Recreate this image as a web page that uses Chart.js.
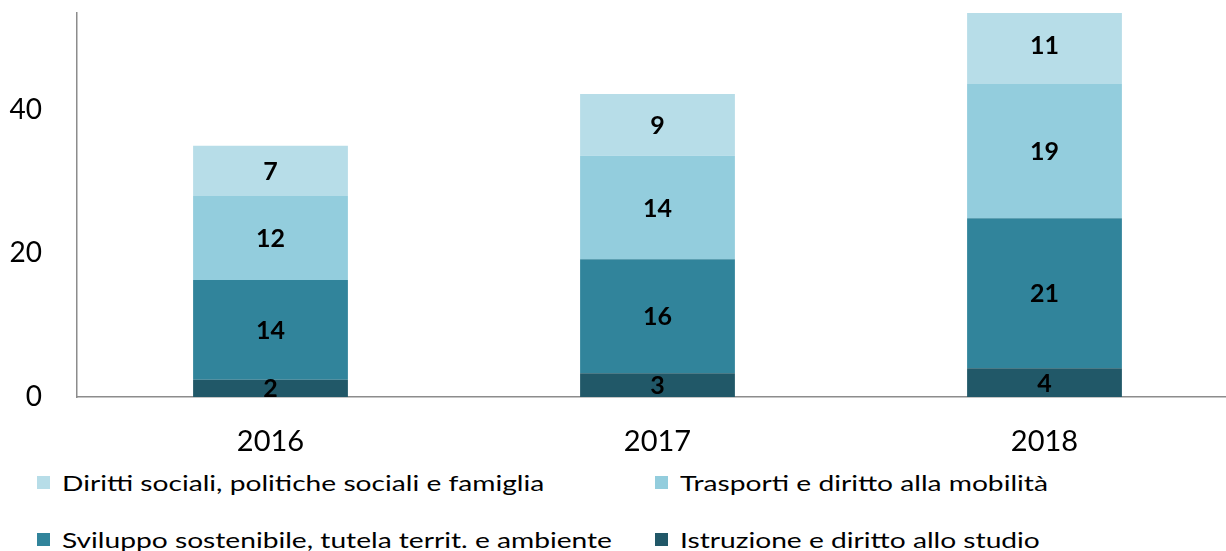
<!DOCTYPE html>
<html><head><meta charset="utf-8">
<script src="https://cdn.jsdelivr.net/npm/chart.js@4/dist/chart.umd.min.js"></script>
<style>
html,body{margin:0;padding:0;background:#fff;overflow:hidden;width:1226px;height:551px;}
#wrap{position:relative;width:1238px;height:465px;}
#legend{position:absolute;left:0;top:465px;width:1226px;height:86px;font-family:Lato,sans-serif;font-size:22px;color:#000;}
.item{position:absolute;display:flex;align-items:center;white-space:nowrap;}
.sw{width:13px;height:13px;margin-right:12px;flex:none;}
.tx{display:inline-block;transform:scaleX(1.28);transform-origin:0 50%;}
</style></head>
<body>
<div id="wrap"><canvas id="c"></canvas></div>
<div id="legend"></div>
<script>
const categories = ['2016', '2017', '2018'];
const istruzione = [2.4, 3.3, 4.0];
const sviluppo = [13.9, 15.9, 20.9];
const trasporti = [11.7, 14.4, 18.7];
const diritti = [7.0, 8.6, 11.0];
const seriesNames = ['Istruzione e diritto allo studio', 'Sviluppo sostenibile, tutela territ. e ambiente', 'Trasporti e diritto alla mobilità', 'Diritti sociali, politiche sociali e famiglia'];
const seriesColors = ['#215868', '#31849b', '#93cddd', '#b7dde8'];
const yTicks = [0, 20, 40];

const seriesData = [istruzione, sviluppo, trasporti, diritti];

const labelPlugin = {
  id: 'barLabels',
  afterDatasetsDraw(chart) {
    const ctx = chart.ctx;
    ctx.save();
    ctx.font = 'bold 25px Lato, sans-serif';
    ctx.fillStyle = '#000';
    ctx.textAlign = 'center';
    ctx.textBaseline = 'middle';
    chart.data.datasets.forEach((ds, i) => {
      const meta = chart.getDatasetMeta(i);
      meta.data.forEach((el, j) => {
        const y = (el.y + el.base) / 2 + 1;
        ctx.fillText(String(Math.round(ds.data[j])), el.x, y);
      });
    });
    ctx.restore();
  }
};

const chart = new Chart(document.getElementById('c'), {
  type: 'bar',
  data: {
    labels: categories,
    datasets: seriesData.map((d, i) => ({
      label: seriesNames[i],
      data: d,
      backgroundColor: seriesColors[i],
      borderWidth: 0,
      barPercentage: 0.4,
      categoryPercentage: 1.0
    }))
  },
  options: {
    responsive: true,
    maintainAspectRatio: false,
    animation: false,
    layout: { padding: { top: 13, left: 0, right: 0, bottom: 0 } },
    plugins: { legend: { display: false }, tooltip: { enabled: false } },
    scales: {
      x: {
        stacked: true,
        grid: { display: false, drawTicks: false },
        border: { display: true, color: '#8c8c8c', width: 1.5 },
        ticks: { color: '#000', font: { family: 'Lato, sans-serif', size: 29 }, padding: 27 },
        afterFit(s) { s.height = 68; s.paddingLeft = 0; s.paddingRight = 0; }
      },
      y: {
        stacked: true,
        min: 0,
        max: 53.5,
        grid: { display: false, drawTicks: false },
        border: { display: true, color: '#8c8c8c', width: 1.5 },
        afterBuildTicks(s) { s.ticks = yTicks.map(v => ({ value: v })); },
        ticks: { color: '#000', font: { family: 'Lato, sans-serif', size: 28 }, padding: 35 },
        afterFit(s) { s.width = 77; s.paddingTop = 0; s.paddingBottom = 0; }
      }
    }
  },
  plugins: [labelPlugin]
});

const legendEl = document.getElementById('legend');
const order = [3, 2, 1, 0];
const pos = [[37, 17], [655, 17], [37, 74], [655, 74]];
order.forEach((idx, k) => {
  const it = document.createElement('div');
  it.className = 'item';
  it.style.left = pos[k][0] + 'px';
  it.style.top = (pos[k][1] - 14) + 'px';
  it.style.height = '28px';
  const sw = document.createElement('span');
  sw.className = 'sw';
  sw.style.background = chart.data.datasets[idx].backgroundColor;
  const tx = document.createElement('span');
  tx.className = 'tx';
  tx.textContent = chart.data.datasets[idx].label;
  it.appendChild(sw); it.appendChild(tx);
  legendEl.appendChild(it);
});
</script>
</body></html>
